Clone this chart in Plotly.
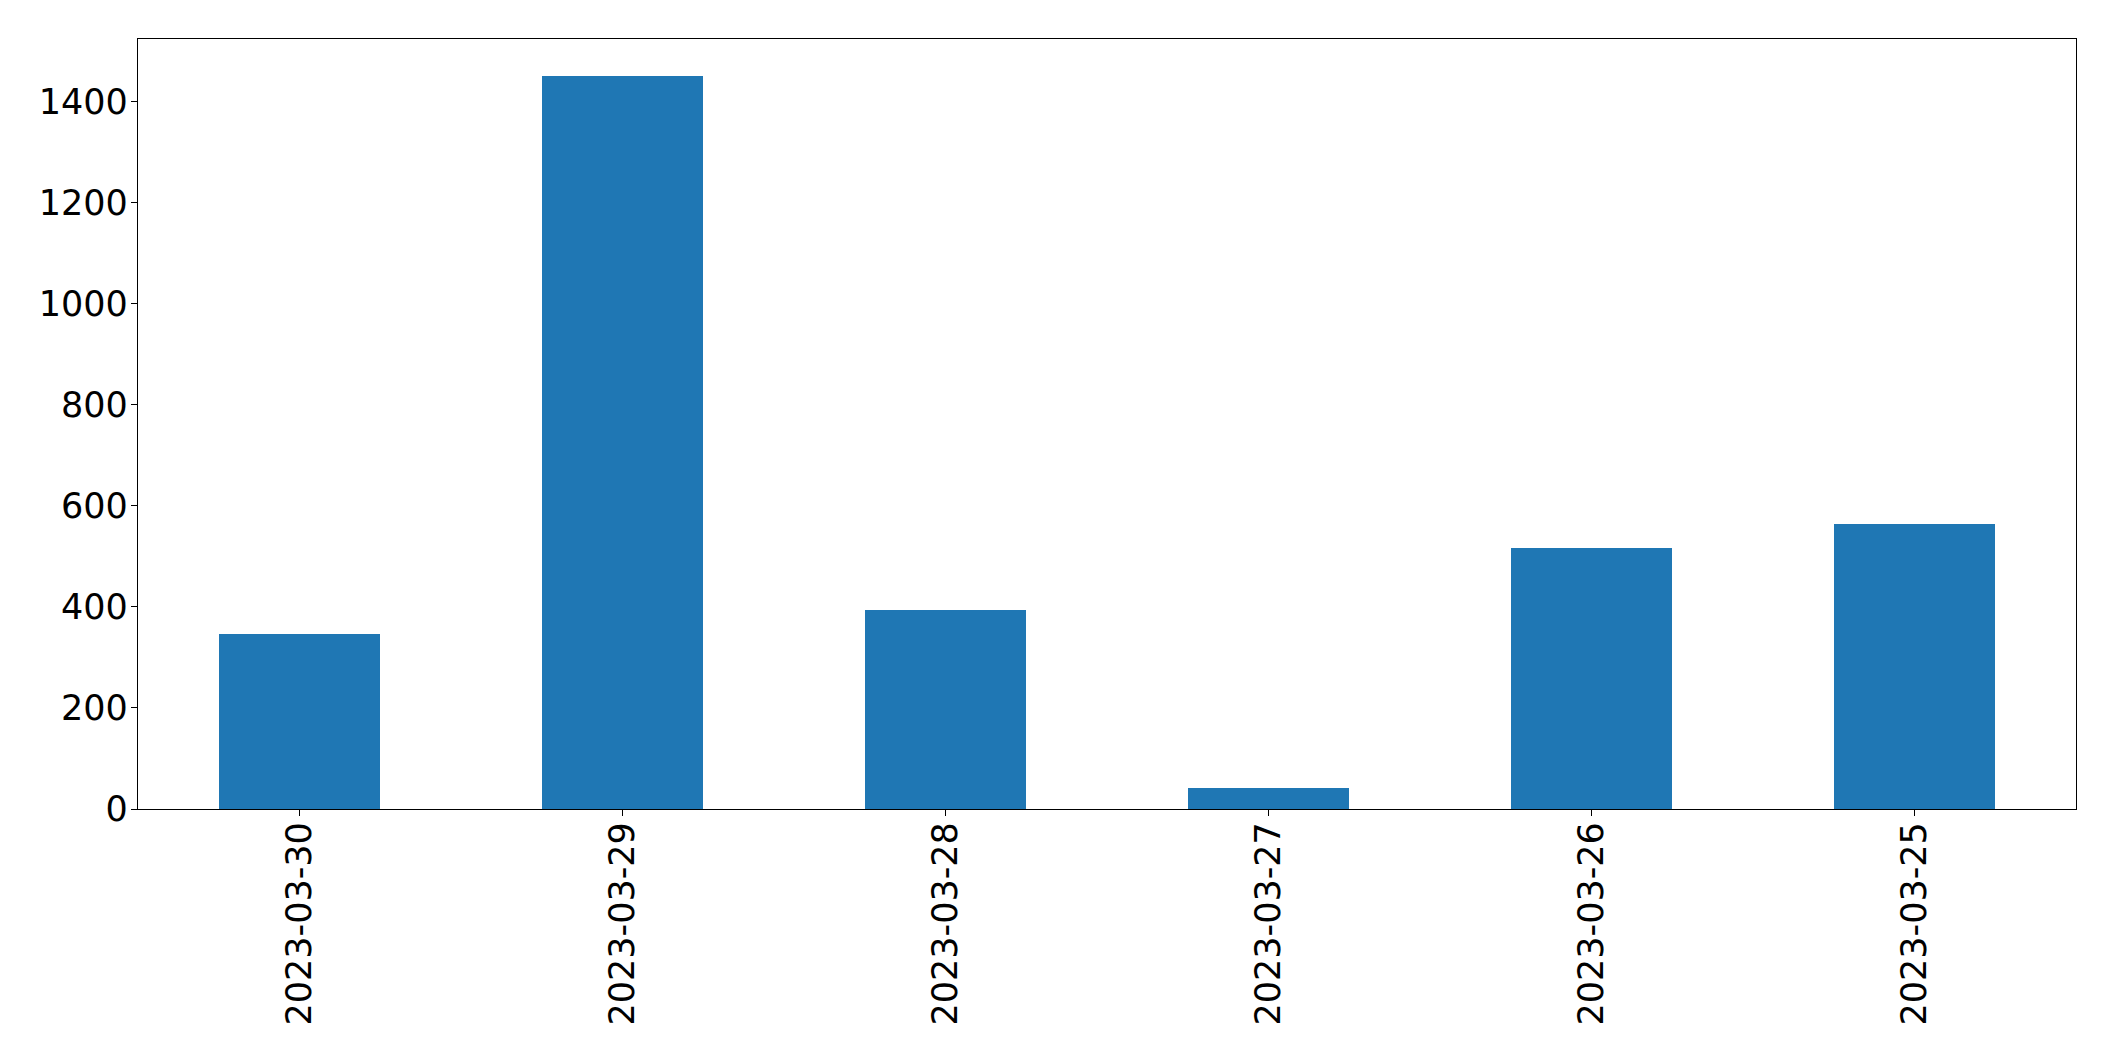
import plotly.graph_objects as go

dates = ["2023-03-30", "2023-03-29", "2023-03-28", "2023-03-27", "2023-03-26", "2023-03-25"]
counts = [347, 1452, 395, 42, 516, 564]
y_ticks = [0, 200, 400, 600, 800, 1000, 1200, 1400]

fig = go.Figure(
    go.Bar(
        x=dates,
        y=counts,
        width=0.5,
        marker=dict(color="#1f77b4", line=dict(width=0)),
    )
)

axis_common = dict(
    showline=True,
    linecolor="black",
    linewidth=1.3,
    mirror=True,
    ticks="outside",
    ticklen=6,
    tickwidth=1.3,
    tickcolor="black",
    showgrid=False,
    zeroline=False,
    tickfont=dict(family="DejaVu Sans", size=35, color="black"),
)

fig.update_layout(
    width=2115,
    height=1061,
    margin=dict(l=130, r=47, t=31, b=260),
    paper_bgcolor="white",
    plot_bgcolor="white",
    showlegend=False,
    bargap=0,
    xaxis=dict(
        type="category",
        range=[-0.5, len(dates) - 0.5],
        tickangle=-90,
        ticklabelstandoff=-8,
        **axis_common,
    ),
    yaxis=dict(
        range=[0, max(counts) * 1.05],
        tickvals=y_ticks,
        ticktext=[str(v) for v in y_ticks],
        ticklabelstandoff=-4,
        **axis_common,
    ),
)

fig.write_html("out.html")
